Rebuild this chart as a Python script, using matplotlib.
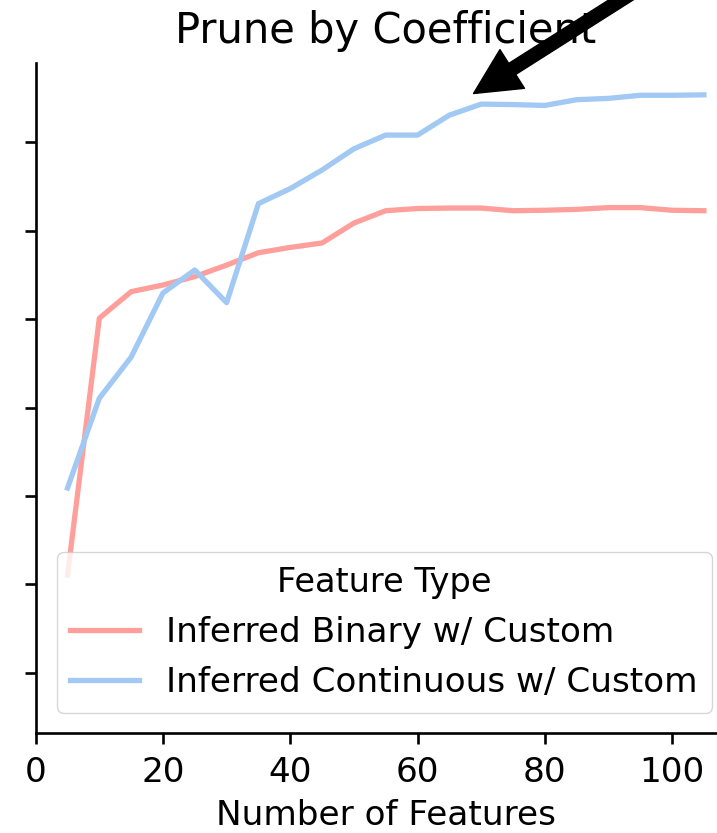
import numpy as np
import matplotlib
matplotlib.use("Agg")
import matplotlib.pyplot as plt

n_features = [5, 10, 15, 20, 25, 30, 35, 40, 45, 50, 55, 60, 65, 70, 75, 80, 85, 90, 95, 100, 105]
binary_custom = [0.7221, 0.7802, 0.7862, 0.7877, 0.7896, 0.7922, 0.7950, 0.7962, 0.7972, 0.8017, 0.8045,
                 0.8050, 0.8051, 0.8051, 0.8045, 0.8046, 0.8048, 0.8052, 0.8052, 0.8046, 0.8045]
continuous_custom = [0.7418, 0.7621, 0.7714, 0.7859, 0.7911, 0.7837, 0.8061, 0.8095, 0.8137, 0.8185, 0.8216,
                     0.8216, 0.8261, 0.8286, 0.8285, 0.8283, 0.8296, 0.8299, 0.8306, 0.8306, 0.8307]
labels = ["Inferred Binary w/ Custom", "Inferred Continuous w/ Custom"]
colors = ["#ff9f9b", "#a1c9f4"]
yticks = [0.70, 0.72, 0.74, 0.76, 0.78, 0.80, 0.82]

W, H = 717, 833
fig = plt.figure(figsize=(W / 100, H / 100), dpi=100)
# axes run past the right edge of the canvas, like a cropped panel
ax = fig.add_axes([35.7 / W, 100 / H, 700 / W, 670 / H])

ax.plot(n_features, binary_custom, color=colors[0], lw=3.8, label=labels[0])
ax.plot(n_features, continuous_custom, color=colors[1], lw=3.8, label=labels[1])

ax.set_xlim(0, 110)
ax.set_ylim(0.6864, 0.8379)
ax.set_xticks([0, 20, 40, 60, 80, 100])
ax.set_yticks(yticks)
ax.tick_params(labelleft=False, labelsize=24.7, length=8, width=1.9, pad=8.5)
for side in ["top", "right"]:
    ax.spines[side].set_visible(False)
for side in ["left", "bottom"]:
    ax.spines[side].set_linewidth(1.9)

ax.set_title("Prune by Coefficient", fontsize=30, pad=14.6)
ax.set_xlabel("Number of Features", fontsize=24.7, labelpad=7)

leg = ax.legend(title="Feature Type", loc="lower right", fontsize=24.7, title_fontsize=24.2,
                bbox_to_anchor=(711.7 / W, (H - 713) / H), bbox_transform=fig.transFigure,
                borderaxespad=0, borderpad=0.4)
for line in leg.get_lines():
    line.set_linewidth(3.8)

ax.annotate("", xy=(68.8, 0.8310), xytext=(106.8, 0.8657),
            arrowprops=dict(facecolor="black", edgecolor="black", width=9.4,
                            headwidth=33, headlength=33, shrink=0))

fig.savefig("out.png", dpi=100)
